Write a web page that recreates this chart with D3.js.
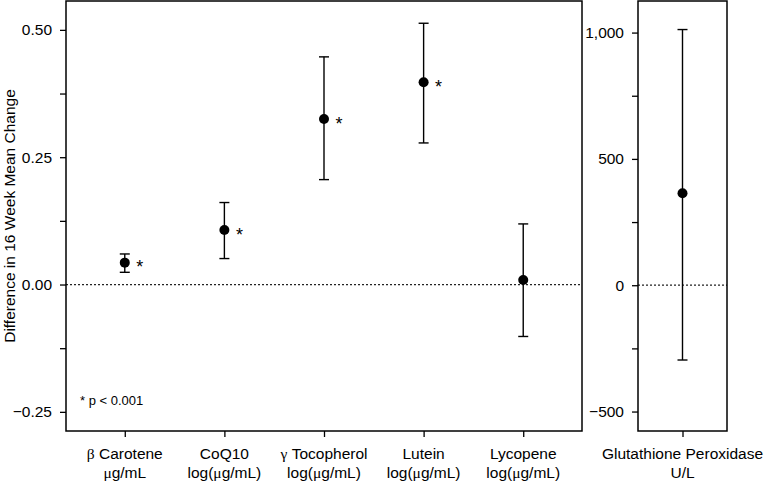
<!DOCTYPE html>
<html><head><meta charset="utf-8">
<script src="https://cdn.jsdelivr.net/npm/d3@7"></script>
<style>
html,body{margin:0;padding:0;background:#fff;}
svg{display:block;font-family:"Liberation Sans",Arial,Helvetica,sans-serif;}
</style></head>
<body><svg id="chart" width="767" height="481"></svg>
<script>
// ---- data ----
const categories = ["β Carotene", "CoQ10", "γ Tocopherol", "Lutein", "Lycopene"];
const unitLabels = ["μg/mL", "log(μg/mL)", "log(μg/mL)", "log(μg/mL)", "log(μg/mL)"];
const means  = [0.043, 0.107, 0.325, 0.397, 0.009];
const lowers = [0.024, 0.051, 0.206, 0.278, -0.102];
const uppers = [0.060, 0.161, 0.447, 0.513, 0.119];
const significant = [true, true, true, true, false];

const rightCategories = ["Glutathione Peroxidase"];
const rightUnitLabels = ["U/L"];
const rightMeans  = [364];
const rightLowers = [-296];
const rightUppers = [1012];

const leftMajorTicks = [-0.25, 0, 0.25, 0.5];
const leftMinorTicks = [-0.125, 0.125, 0.375];
const rightMajorTicks = [-500, 0, 500, 1000];
const rightMinorTicks = [-250, 250, 750];
const yTitle = "Difference in 16 Week Mean Change";
const footnote = "* p < 0.001";

// ---- layout ----
const svg = d3.select("#chart");
svg.append("rect").attr("width",767).attr("height",481).attr("fill","#fff");
const plotTop = 1, plotBottom = 431;
const L = {x0: 66, x1: 582}, R = {x0: 638, x1: 727};
const FS = 15.5;

const yL = d3.scaleLinear().domain([-0.2876, 0.5567]).range([plotBottom, plotTop]);
const yR = d3.scaleLinear().domain([-577, 1125]).range([plotBottom, plotTop]);
const xL = d3.scalePoint().domain(categories).range([L.x0, L.x1]).padding(0.59);
const xR = d3.scalePoint().domain(rightCategories).range([R.x0, R.x1]).padding(0.5);

const fmtL = d => d === 0 ? "0.00" : (d < 0 ? "\u2212" : "") + d3.format(".2f")(Math.abs(d));
const fmtR = d => d === 0 ? "0" : (d < 0 ? "\u2212" : "") + d3.format(",")(Math.abs(d));

function greekLabel(sel, text) {
  const parts = text.split(/([βγμ])/).filter(s => s.length);
  parts.forEach(p => {
    const t = sel.append("tspan").text(p);
    if (/[βγμ]/.test(p)) t.attr("font-family", "'Liberation Serif','DejaVu Serif',serif");
  });
}

function drawPanel(x0, x1, y, x, majorT, minorT, fmt, cats, units, mn, lo, hi, sig) {
  const g = svg.append("g");
  g.append("line").attr("x1", x0).attr("x2", x1).attr("y1", y(0)).attr("y2", y(0))
    .attr("stroke", "#222").attr("stroke-width", 1.2).attr("stroke-dasharray", "2,2");
  const ax = g.append("g").attr("transform", `translate(${x0},0)`)
    .call(d3.axisLeft(y).tickValues(majorT).tickFormat(fmt).tickSize(6).tickPadding(8));
  ax.select(".domain").remove();
  ax.selectAll("line").attr("stroke", "#000").attr("stroke-width", 1.3);
  ax.selectAll("text").attr("font-size", FS).attr("fill", "#000").attr("font-family", "'Liberation Sans',Arial,sans-serif");
  const axm = g.append("g").attr("transform", `translate(${x0},0)`)
    .call(d3.axisLeft(y).tickValues(minorT).tickFormat("").tickSize(6));
  axm.select(".domain").remove();
  axm.selectAll("line").attr("stroke", "#000").attr("stroke-width", 1.3);
  const bx = g.append("g").attr("transform", `translate(0,${plotBottom})`)
    .call(d3.axisBottom(x).tickSize(6).tickFormat(""));
  bx.select(".domain").remove();
  bx.selectAll("line").attr("stroke", "#000").attr("stroke-width", 1.3);
  cats.forEach((c, i) => {
    const t1 = g.append("text").attr("x", x(c)).attr("y", 459).attr("text-anchor", "middle")
      .attr("font-size", FS).attr("fill", "#000");
    greekLabel(t1, c);
    const t2 = g.append("text").attr("x", x(c)).attr("y", 478).attr("text-anchor", "middle")
      .attr("font-size", FS).attr("fill", "#000");
    greekLabel(t2, units[i]);
  });
  cats.forEach((c, i) => {
    const cx = x(c);
    g.append("line").attr("x1", cx).attr("x2", cx).attr("y1", y(lo[i])).attr("y2", y(hi[i]))
      .attr("stroke", "#000").attr("stroke-width", 1.4);
    [lo[i], hi[i]].forEach(v => {
      g.append("line").attr("x1", cx - 5).attr("x2", cx + 5).attr("y1", y(v)).attr("y2", y(v))
        .attr("stroke", "#000").attr("stroke-width", 1.4);
    });
    g.append("circle").attr("cx", cx).attr("cy", y(mn[i])).attr("r", 5).attr("fill", "#000");
    if (sig && sig[i]) {
      g.append("text").attr("x", cx + 15).attr("y", y(mn[i]) + 10.5).attr("text-anchor", "middle")
        .attr("font-size", 18).attr("fill", "#000").text("*");
    }
  });
  g.append("rect").attr("x", x0).attr("y", plotTop).attr("width", x1 - x0).attr("height", plotBottom - plotTop)
    .attr("fill", "none").attr("stroke", "#000").attr("stroke-width", 1.5);
}

drawPanel(L.x0, L.x1, yL, xL, leftMajorTicks, leftMinorTicks, fmtL,
  categories, unitLabels, means, lowers, uppers, significant);
drawPanel(R.x0, R.x1, yR, xR, rightMajorTicks, rightMinorTicks, fmtR,
  rightCategories, rightUnitLabels, rightMeans, rightLowers, rightUppers, null);

svg.append("text").attr("transform", `translate(14.5,${(plotTop + plotBottom) / 2}) rotate(-90)`)
  .attr("text-anchor", "middle").attr("font-size", FS).attr("fill", "#000").text(yTitle);

svg.append("text").attr("x", 80).attr("y", 405).attr("font-size", 13).attr("fill", "#000").text(footnote);
</script>
</body></html>
